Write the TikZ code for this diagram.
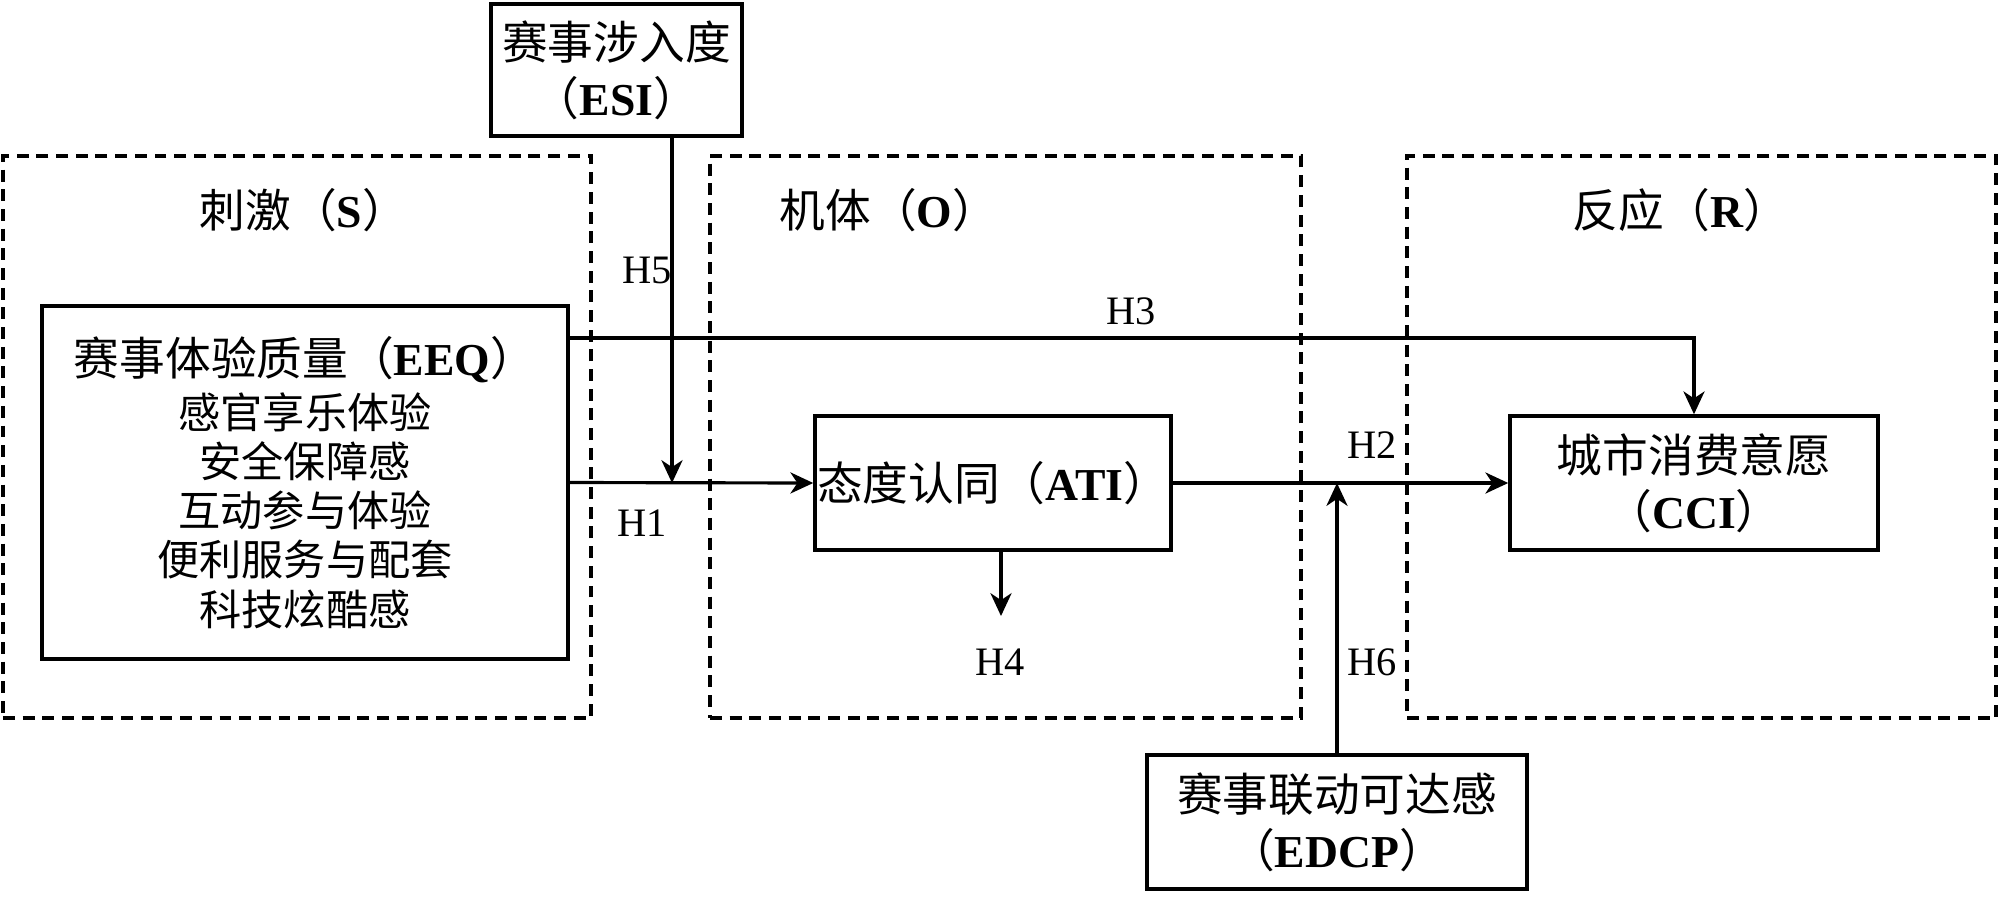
\documentclass[tikz,border=0pt]{standalone}
\usepackage{fontspec}
\setmainfont{Liberation Serif}
\newfontfamily\cjk{Noto Sans CJK SC}
\usepackage{tikz}
\usetikzlibrary{arrows.meta,positioning,calc}
\newcommand{\zhtxt}[1]{{\cjk #1}}
\newcommand{\acr}[1]{\zhtxt{（}\textbf{#1}\zhtxt{）}}

\begin{document}
\begin{tikzpicture}[>={Stealth[length=6.5pt,width=6pt,inset=2pt]},
  box/.style={draw,line width=1pt,align=center,inner sep=0pt,font=\fontsize{13pt}{16pt}\selectfont},
  group/.style={draw,line width=1pt,dash pattern=on 3.4pt off 2.2pt,minimum height=5.62cm,inner sep=0pt},
  link/.style={->,line width=0.9pt},
  hlab/.style={font=\fontsize{11.5pt}{13pt}\selectfont}]
\useasboundingbox (0,0) rectangle (20,-8.97);
% stages
\node[group,minimum width=5.88cm] (S) at (2.97,-4.37){};
\node[group,minimum width=5.91cm] (O) at (10.055,-4.37){};
\node[group,minimum width=5.89cm] (R) at (17.015,-4.37){};
\node[font=\fontsize{13pt}{16pt}\selectfont] (St) at (3.04,-2.10){\zhtxt{刺激}\acr{S}};
\node[font=\fontsize{13pt}{16pt}\selectfont] (Ot) at (8.89,-2.10){\zhtxt{机体}\acr{O}};
\node[font=\fontsize{13pt}{16pt}\selectfont] (Rt) at (16.81,-2.10){\zhtxt{反应}\acr{R}};
% constructs
\node[box,minimum width=2.51cm,minimum height=1.32cm] (ESI) at (6.165,-0.70){\zhtxt{赛事涉入度}\\\acr{ESI}};
\node[box,font=\fontsize{12pt}{14pt}\selectfont,minimum width=5.26cm,minimum height=3.53cm] (EEQ) at (3.05,-4.825){{\fontsize{13pt}{16pt}\selectfont\zhtxt{赛事体验质量}\acr{EEQ}}\\[1pt]
  \zhtxt{感官享乐体验}\\\zhtxt{安全保障感}\\\zhtxt{互动参与体验}\\\zhtxt{便利服务与配套}\\\zhtxt{科技炫酷感}};
\node[box,minimum width=3.56cm,minimum height=1.34cm] (ATI) at (9.93,-4.83){\zhtxt{态度认同}\acr{ATI}};
\node[box,minimum width=3.68cm,minimum height=1.34cm] (CCI) at (16.94,-4.83){\zhtxt{城市消费意愿}\\\acr{CCI}};
\node[box,minimum width=3.80cm,minimum height=1.34cm] (EDCP) at (13.37,-8.22){\zhtxt{赛事联动可达感}\\\acr{EDCP}};
% paths
\coordinate (h3y) at (0,-3.38);
\coordinate (m5) at (6.72,-4.83);
\coordinate (h4) at (10.01,-6.16);
\draw[link] (EEQ.east) -- (ATI.west);
\draw[link] (ATI.east) -- (CCI.west);
\draw[link] (EEQ.east |- h3y) -| (CCI.north);
\draw[link] (ESI.south -| m5) -- (m5);
\draw[link] (ATI.south -| h4) -- (h4);
\draw[link] (EDCP.north) -- (EDCP.north |- ATI.east);
\node[hlab] (H1) at (6.42,-5.23){H1};
\node[hlab] (H2) at (13.72,-4.45){H2};
\node[hlab] (H3) at (11.31,-3.11){H3};
\node[hlab] (H4) at (10.00,-6.62){H4};
\node[hlab] (H5) at (6.47,-2.70){H5};
\node[hlab] (H6) at (13.72,-6.62){H6};
\end{tikzpicture}
\end{document}
